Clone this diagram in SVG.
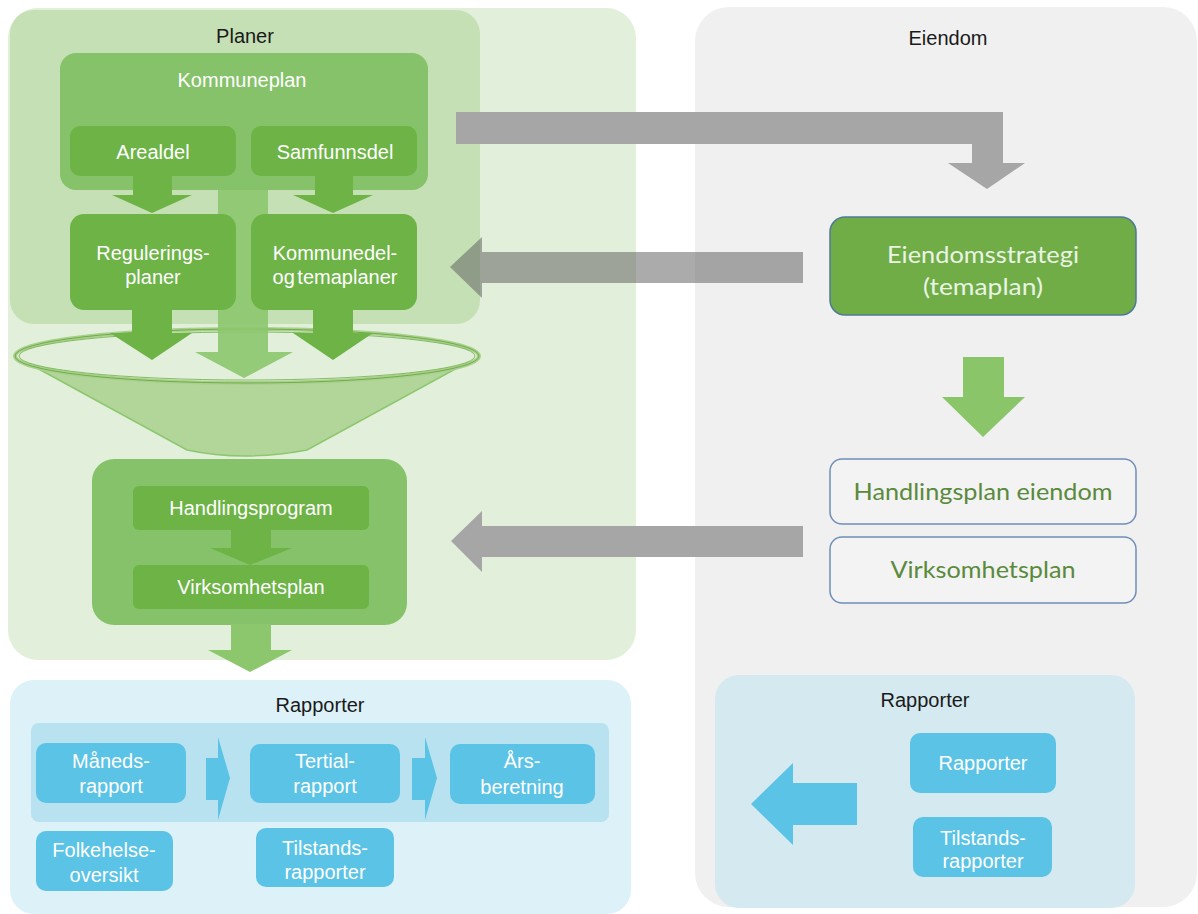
<svg xmlns="http://www.w3.org/2000/svg" width="1198" height="914" viewBox="0 0 1198 914">
<style>
.t{font-family:"Liberation Sans",Arial,sans-serif;font-size:20px;text-anchor:middle}
.w{fill:#ffffff}
.k{fill:#1a1a1a}
.c{font-family:Lato,"Open Sans",sans-serif;text-anchor:middle}
.g1{fill:#86c26a}
.g2{fill:#6db346}
.bl{fill:#5bc3e5}
.gray{fill:#a6a6a6}
</style>
<rect width="1198" height="914" fill="#ffffff"/>
<g id="panel-planer">
<rect x="8" y="8" width="628" height="652" rx="30" fill="#e2efda"/>
<rect x="10" y="10" width="470" height="314" rx="24" fill="#c5e0b4"/>
<text class="t k" x="245" y="43">Planer</text>
</g>
<g id="panel-eiendom">
<rect x="695" y="7" width="502" height="900" rx="34" fill="#f0f0f0"/>
<text class="t k" x="948" y="45">Eiendom</text>
</g>
<g id="panel-rapporter-left">
<rect x="10" y="680" width="621" height="234" rx="24" fill="#ddf1f8"/>
<text class="t k" x="320" y="712">Rapporter</text>
<rect x="31" y="723" width="578" height="99" rx="8" fill="#b9e2f0"/>
</g>
<g id="panel-rapporter-right">
<rect x="715" y="675" width="420" height="233" rx="24" fill="#d4e9f0"/>
<text class="t k" x="925" y="707">Rapporter</text>
</g>
<g id="funnel">
<path d="M15,356 L187,450 Q243,462 307,450 L479,356 A232 27 0 0 1 15 356 Z" fill="#a9d18e" fill-opacity="0.85" stroke="#8cc76e" stroke-width="1.5"/>
<ellipse cx="247" cy="356" rx="232" ry="27" fill="#e2efda" stroke="#a9d18e" stroke-width="4"/>
<ellipse cx="247" cy="356" rx="232" ry="27" fill="none" stroke="#70ad47" stroke-width="1"/>
<ellipse cx="247" cy="356" rx="228" ry="24" fill="none" stroke="#70ad47" stroke-width="0.8"/>
</g>
<g id="kommuneplan">
<rect x="60" y="53" width="368" height="137" rx="16" class="g1"/>
<text class="t w" x="242" y="87">Kommuneplan</text>
</g>
<g id="handlingsprogram-container">
<rect x="92" y="459" width="315" height="166" rx="22" class="g1"/>
</g>
<g id="connectors">
<path d="M218,190 H268 V352 H293 L244,378 L195,352 H218 Z" fill="#8cc76e" fill-opacity="0.9"/>
<path d="M133,176 H172 V195 H192 L152,213 L112,195 H133 Z" class="g2"/>
<path d="M315,176 H353 V195 H373 L333,213 L293,195 H315 Z" class="g2"/>
<path d="M132,305 H172 V333 H192 L152,360 L110,333 H132 Z" class="g2"/>
<path d="M313,305 H353 V333 H373 L333,360 L293,333 H313 Z" class="g2"/>
<path d="M231,528 H271 V548 H292 L250,565 L210,548 H231 Z" class="g2"/>
<path d="M231,624 H271 V650 H292 L250,672 L208,650 H231 Z" fill="#8cc76e"/>
<path d="M456,112 H1003 V163 H1025 L987,189 L948,163 H972 V144 H456 Z" class="gray"/>
<path d="M803,252 V283 H482 V298 L450,267 L482,237 V252 Z" fill="#5d5d5d" fill-opacity="0.52"/>
<path d="M803,526 V557 H482 V572 L451,541 L482,511 V526 Z" class="gray"/>
<path d="M963,357 H1004 V397 H1025 L983,437 L942,397 H963 Z" fill="#8bc56a"/>
<path d="M857,783 V825 H793 V845 L751,804 L793,763 V783 Z" class="bl"/>
<path d="M206,758 H218 V737 L230,778 L218,820 V800 H206 Z" class="bl"/>
<path d="M412,758 H425 V737 L437,778 L425,820 V800 H412 Z" class="bl"/>
</g>
<g id="arealdel">
<rect x="70" y="126" width="166" height="50" rx="10" class="g2"/>
<text class="t w" x="153" y="159">Arealdel</text>
</g>
<g id="samfunnsdel">
<rect x="251" y="126" width="166" height="50" rx="10" class="g2"/>
<text class="t w" x="335" y="159">Samfunnsdel</text>
</g>
<g id="reguleringsplaner">
<rect x="70" y="214" width="166" height="96" rx="14" class="g2"/>
<text class="t w" x="153" y="260">Regulerings-</text>
<text class="t w" x="153" y="284">planer</text>
</g>
<g id="kommunedelplaner">
<rect x="251" y="214" width="166" height="96" rx="14" class="g2"/>
<text class="t w" x="335" y="260">Kommunedel-</text>
<text class="t w" x="335" y="284" word-spacing="-3">og temaplaner</text>
</g>
<g id="handlingsprogram">
<rect x="133" y="486" width="236" height="44" rx="6" class="g2"/>
<text class="t w" x="251" y="515">Handlingsprogram</text>
</g>
<g id="virksomhetsplan">
<rect x="133" y="565" width="236" height="44" rx="6" class="g2"/>
<text class="t w" x="251" y="594">Virksomhetsplan</text>
</g>
<g id="eiendomsstrategi">
<rect x="830" y="217" width="306" height="98" rx="15" fill="#70ad47" stroke="#4f7a96" stroke-width="1.5"/>
<text class="c" x="983" y="263" font-size="23" fill="#eaf4e4" textLength="192" lengthAdjust="spacingAndGlyphs">Eiendomsstrategi</text>
<text class="c" x="983" y="295" font-size="23" fill="#eaf4e4" textLength="120" lengthAdjust="spacingAndGlyphs">(temaplan)</text>
</g>
<g id="handlingsplan-eiendom">
<rect x="830" y="459" width="306" height="65" rx="12" fill="#f3f3f3" stroke="#6f8fb8" stroke-width="1.5"/>
<text class="c" x="983" y="500" font-size="24" fill="#5a8a3c" textLength="259" lengthAdjust="spacingAndGlyphs">Handlingsplan eiendom</text>
</g>
<g id="virksomhetsplan-eiendom">
<rect x="830" y="537" width="306" height="66" rx="12" fill="#f3f3f3" stroke="#6f8fb8" stroke-width="1.5"/>
<text class="c" x="983" y="578" font-size="24" fill="#5a8a3c" textLength="185" lengthAdjust="spacingAndGlyphs">Virksomhetsplan</text>
</g>
<g id="rapporter-box">
<rect x="910" y="733" width="146" height="60" rx="10" class="bl"/>
<text class="t w" x="983" y="770">Rapporter</text>
</g>
<g id="tilstandsrapporter-right">
<rect x="913" y="817" width="139" height="60" rx="10" class="bl"/>
<text class="t w" x="983" y="845">Tilstands-</text>
<text class="t w" x="983" y="868">rapporter</text>
</g>
<g id="maanedsrapport">
<rect x="36" y="743" width="150" height="60" rx="10" class="bl"/>
<text class="t w" x="111" y="768">Måneds-</text>
<text class="t w" x="111" y="793">rapport</text>
</g>
<g id="tertialrapport">
<rect x="250" y="744" width="150" height="59" rx="10" class="bl"/>
<text class="t w" x="325" y="768">Tertial-</text>
<text class="t w" x="325" y="793">rapport</text>
</g>
<g id="aarsberetning">
<rect x="450" y="744" width="145" height="60" rx="10" class="bl"/>
<text class="t w" x="522" y="768">Års-</text>
<text class="t w" x="522" y="794">beretning</text>
</g>
<g id="folkehelseoversikt">
<rect x="36" y="831" width="137" height="60" rx="10" class="bl"/>
<text class="t w" x="104" y="857">Folkehelse-</text>
<text class="t w" x="104" y="882">oversikt</text>
</g>
<g id="tilstandsrapporter-left">
<rect x="256" y="828" width="138" height="59" rx="10" class="bl"/>
<text class="t w" x="325" y="855">Tilstands-</text>
<text class="t w" x="325" y="879">rapporter</text>
</g>
</svg>
